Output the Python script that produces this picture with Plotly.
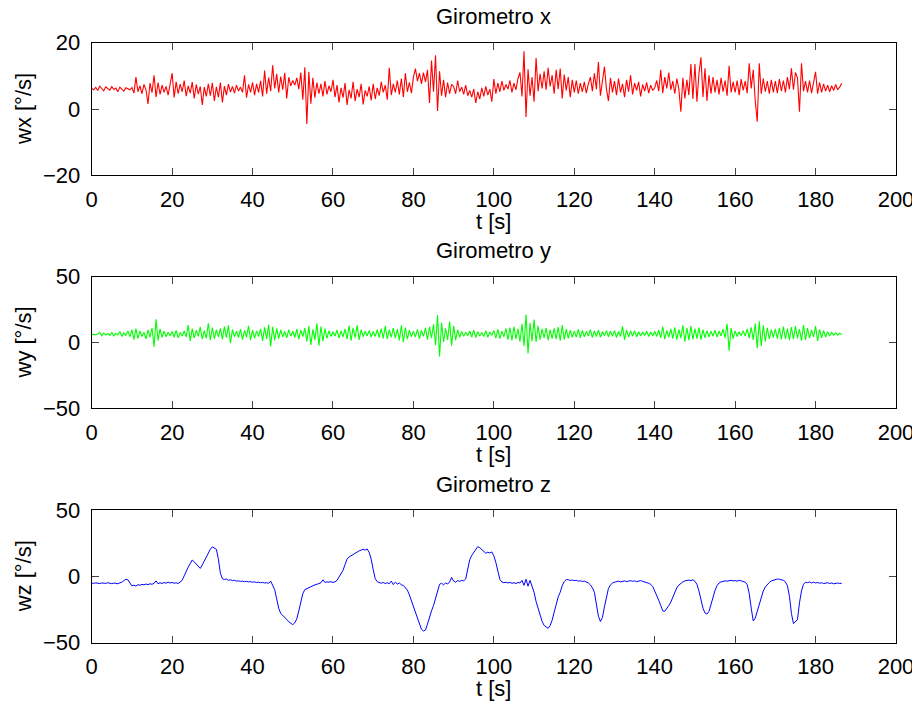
import plotly.graph_objects as go

dt = 0.5

wx = [
    6.2, 5.8, 6.5, 5.6, 6.9, 6.0, 5.5, 6.7, 6.1, 5.7, 6.8, 5.9, 6.3, 5.2, 6.6, 6.0, 5.4, 6.4, 6.2, 5.8,
    6.5, 4.8, 9.6, 5.2, 7.0, 4.6, 7.4, 5.8, 1.5, 7.8, 4.9, 10.2, 3.6, 8.0, 4.4, 7.2, 5.0, 6.8, 4.2, 7.6,
    10.8, 3.5, 8.2, 4.6, 7.5, 5.2, 8.6, 3.9, 7.0, 4.8, 8.1, 3.2, 7.4, 4.5, 6.8, 1.2, 6.6, 3.8, 7.6, 4.0,
    7.9, 2.4, 6.7, 3.6, 8.0, 2.0, 6.9, 4.2, 7.5, 5.1, 6.8, 4.8, 7.2, 5.4, 6.6, 5.0, 10.2, 3.4, 7.4, 5.0,
    8.0, 4.2, 7.6, 5.0, 8.5, 3.8, 11.6, 4.6, 9.5, 5.4, 13.2, 6.2, 10.6, 5.0, 9.8, 5.8, 10.9, 3.2, 9.6, 7.0,
    8.6, 7.2, 9.4, 6.0, 11.0, 2.8, 12.6, -4.5, 11.2, 1.6, 9.4, 3.4, 8.0, 4.6, 7.6, 3.8, 8.4, 4.4, 7.0, 5.2,
    8.8, 3.6, 7.2, 2.0, 6.4, 3.4, 7.8, 1.2, 5.8, 3.2, 8.2, 2.4, 6.0, 3.6, 7.6, 1.4, 5.6, 3.8, 6.8, 2.6,
    7.6, 3.0, 6.4, 4.0, 8.2, 5.0, 7.2, 2.8, 12.4, 4.2, 7.6, 5.0, 8.6, 4.4, 9.2, 3.6, 10.8, 5.2, 8.0, 4.8,
    9.6, 12.2, 8.4, 10.8, 7.6, 11.0, 8.2, 11.8, 1.8, 14.6, 5.2, 16.2, -0.6, 11.4, 4.0, 8.8, 3.6, 8.0, 4.6, 7.4,
    6.8, 4.6, 8.6, 5.2, 6.6, 4.4, 7.2, 4.0, 5.6, 3.6, 6.0, 1.8, 5.2, 3.0, 6.4, 3.8, 6.8, 4.2, 6.0, 2.2,
    9.0, 4.6, 7.8, 5.2, 8.4, 5.6, 7.4, 6.0, 8.6, 5.0, 7.8, 5.8, 9.2, 11.0, 3.8, 17.4, -2.4, 12.0, 4.0, 9.6,
    2.2, 15.4, 5.4, 10.6, 6.2, 11.4, 5.8, 12.4, 6.8, 10.2, 4.6, 11.8, 6.0, 12.2, 3.2, 10.4, 5.6, 9.6, 3.6, 8.8,
    5.0, 8.6, 4.6, 7.8, 5.2, 8.2, 4.8, 7.6, 9.6, 5.4, 10.8, 6.0, 14.2, 4.0, 9.0, 12.8, 6.0, 2.4, 9.4, 5.0,
    8.4, 4.2, 9.2, 5.0, 7.6, 3.6, 8.8, 5.2, 10.2, 4.4, 7.8, 5.6, 8.2, 3.8, 7.4, 5.4, 8.0, 4.8, 7.2, 5.6,
    6.4, 8.6, 5.4, 11.8, 4.8, 9.6, 6.2, 11.0, 5.8, 8.4, 4.6, 9.2, 6.0, -0.8, 9.4, 3.2, 8.8, 4.2, 13.6, 3.0,
    13.6, 2.2, 10.8, 15.6, 3.6, 12.3, 2.4, 10.2, 4.6, 9.6, 5.0, 8.8, 4.4, 9.4, 5.2, 8.6, 4.0, 13.0, 5.0, 8.2,
    5.0, 8.6, 4.2, 9.0, 5.6, 8.4, 4.8, 13.8, 6.2, 11.8, 2.4, -3.8, 13.8, 4.6, 9.2, 5.2, 8.4, 4.6, 8.8, 5.0,
    8.4, 4.8, 9.0, 5.4, 8.6, 5.0, 9.6, 6.0, 12.3, 5.8, 11.0, 9.4, -0.8, 13.8, 5.4, 8.4, 5.0, 8.6, 4.8, 7.8,
    11.2, 4.6, 8.0, 5.0, 7.6, 5.4, 7.2, 5.2, 7.0, 5.6, 7.4, 5.8, 6.6, 7.8,
]

wy = [
    6.0, 6.2, 5.8, 6.4, 7.8, 5.2, 7.2, 5.6, 6.8, 5.4, 7.6, 5.0, 7.0, 5.8, 8.4, 4.6, 7.4, 5.2, 8.8, 4.4,
    9.8, 2.2, 10.6, 3.0, 8.8, 4.6, 7.6, 2.8, 9.6, 4.0, 11.2, -3.2, 17.6, 1.6, 10.4, 3.8, 8.6, 4.4, 7.8, 5.2,
    8.4, 4.0, 9.2, 3.6, 7.6, 5.0, 8.8, 4.2, 13.2, 1.2, 10.6, 3.4, 9.4, 4.6, 11.8, 2.6, 9.0, 3.2, 14.6, 1.8,
    11.4, 3.0, 9.6, 4.2, 10.8, 2.4, 12.0, 3.6, 13.0, -0.6, 9.8, 4.4, 8.6, 3.8, 10.2, 2.2, 9.2, 4.0, 12.6, 1.8,
    9.4, 3.4, 8.8, 4.6, 10.4, 1.2, 11.6, 2.8, 13.6, -3.0, 12.0, 1.6, 10.8, 3.0, 9.6, 4.2, 8.4, 3.6, 9.8, 4.8,
    8.6, 3.8, 10.2, 2.6, 9.4, 4.4, 11.0, 0.8, 12.4, -1.8, 10.0, 2.0, 14.6, -2.4, 12.2, 1.0, 10.6, 3.2, 9.0, 4.6,
    8.2, 4.8, 9.6, 3.4, 8.8, 4.2, 10.4, 2.6, 12.8, 1.4, 11.2, 3.6, 13.0, 2.0, 9.8, 4.4, 8.6, 5.0, 9.2, 4.2,
    8.4, 4.6, 9.8, 3.8, 10.6, 3.2, 12.4, 2.8, 9.6, 4.0, 11.0, 3.4, 10.2, 1.6, 13.0, 0.2, 11.4, 2.6, 9.4, 4.4,
    8.6, 4.2, 10.0, 3.0, 9.2, 4.6, 11.2, 2.2, 12.0, 3.4, 13.8, -2.0, 20.8, -10.6, 15.0, 0.4, 10.8, 2.0, 16.0, -2.4,
    12.6, 1.8, 9.6, 4.0, 8.4, 4.8, 7.8, 5.2, 8.8, 4.2, 9.4, 3.8, 8.2, 5.0, 7.6, 4.6, 9.0, 4.0, 8.0, 5.4,
    9.2, 3.4, 10.0, 3.0, 8.6, 4.4, 10.8, 2.2, 11.4, 1.6, 12.0, 2.8, 10.4, 0.6, 14.2, -2.6, 21.2, -8.4, 14.8, 1.0,
    17.4, 0.4, 12.6, 2.2, 10.4, 3.6, 11.2, 1.8, 9.6, 3.0, 10.8, 2.6, 11.8, 1.4, 13.0, 2.4, 10.2, 3.2, 9.4, 4.0,
    8.6, 4.2, 10.0, 3.6, 9.2, 4.4, 8.4, 5.0, 9.8, 3.8, 8.8, 4.6, 9.4, 4.0, 8.2, 5.2, 9.0, 4.4, 8.6, 4.8,
    9.2, 3.8, 8.4, 4.6, 12.2, 2.0, 9.6, 4.2, 8.8, 4.8, 9.0, 4.4, 8.2, 5.0, 7.8, 5.4, 8.6, 4.6, 8.0, 5.0,
    8.4, 4.6, 9.4, 3.6, 12.0, 2.6, 9.2, 4.0, 10.4, 3.0, 11.6, 2.2, 10.0, 3.4, 13.0, 0.6, 11.2, 1.8, 12.4, 2.4,
    10.6, 3.0, 11.4, 2.2, 9.8, 3.6, 9.0, 4.4, 8.6, 4.8, 9.4, 4.2, 8.8, 5.0, 10.2, 3.6, 14.2, -6.2, 11.0, 3.0,
    8.8, 4.6, 8.2, 5.2, 9.0, 4.8, 10.4, 3.4, 11.6, 2.0, 14.4, -4.4, 16.2, -2.6, 13.0, 0.8, 11.2, 2.6, 9.8, 3.8,
    10.4, 3.0, 11.0, 2.4, 12.0, 2.8, 10.6, 1.8, 11.8, 2.6, 12.4, 3.2, 10.2, 1.4, 13.2, 2.0, 11.0, 3.4, 9.6, 4.2,
    12.4, 1.2, 10.0, 3.6, 9.0, 4.2, 8.2, 5.0, 7.8, 5.4, 7.4, 5.6, 7.0, 6.0,
]

wz = [
    -5.0, -5.3, -4.9, -5.2, -5.4, -5.0, -5.1, -5.3, -4.8, -5.2, -5.5, -5.0, -5.2, -5.6, -4.9, -4.4, -3.2, -2.2, -2.6, -4.6,
    -7.2, -6.6, -7.4, -6.2, -6.8, -6.0, -6.4, -5.8, -6.2, -5.6, -6.0, -5.2, -3.4, -5.6, -4.8, -5.4, -4.6, -5.2, -4.4, -5.0,
    -4.6, -5.2, -4.8, -5.4, -4.4, -3.0, 0.4, 4.2, 7.0, 9.6, 12.4, 10.8, 9.0, 7.2, 6.0, 8.6, 11.8, 15.0, 18.2, 20.4,
    22.2, 21.6, 20.4, 13.0, 2.4, -1.8, -2.4, -2.0, -3.0, -2.6, -3.2, -3.0, -3.6, -3.4, -3.8, -3.6, -4.0, -3.8, -4.2, -4.0,
    -4.4, -4.2, -4.6, -4.4, -4.8, -4.6, -5.0, -4.8, -5.2, -3.6, -6.8, -10.0, -17.0, -24.0, -28.0, -29.4, -30.6, -32.4, -34.2, -35.6,
    -36.4, -35.0, -32.0, -26.0, -19.0, -13.0, -10.0, -9.2, -8.6, -7.8, -7.2, -6.4, -6.0, -5.4, -4.8, -2.6, -4.6, -4.2, -4.4, -4.0,
    -4.6, -4.2, -3.0, -0.5, 2.0, 4.6, 9.0, 13.0, 14.6, 15.6, 16.2, 17.4, 18.4, 19.2, 19.8, 20.4, 19.8, 20.6, 18.0, 13.0,
    5.0, -1.8, -4.0, -4.8, -5.2, -4.6, -5.4, -4.8, -5.6, -3.6, -6.2, -4.4, -5.8, -5.0, -6.4, -6.8, -8.6, -10.4, -14.0, -18.6,
    -23.0, -26.0, -31.0, -36.0, -40.0, -41.2, -40.4, -36.0, -30.0, -26.0, -22.0, -16.0, -11.0, -6.0, -5.2, -6.4, -5.0, -5.8, -4.2, -0.8,
    -3.6, -4.4, -3.2, -3.8, -3.0, -3.4, -2.0, 5.0, 12.6, 15.8, 18.0, 20.6, 22.4, 21.6, 20.2, 18.6, 17.4, 18.2, 17.6, 18.4,
    15.4, 10.4, 3.0, -2.4, -4.2, -4.8, -4.4, -5.0, -4.6, -5.2, -4.8, -5.4, -4.6, -5.0, -3.0, -6.8, -2.2, -7.4, -3.0, -8.0,
    -12.0, -19.0, -24.0, -28.0, -34.0, -37.0, -38.4, -39.2, -37.0, -33.0, -27.0, -21.0, -15.5, -12.0, -7.0, -4.0, -2.4, -2.6, -3.0, -2.8,
    -3.2, -3.0, -3.6, -3.4, -3.8, -3.6, -4.2, -5.0, -6.4, -8.6, -12.0, -20.0, -30.0, -34.0, -31.0, -23.0, -15.0, -9.0, -6.4, -5.0,
    -4.4, -4.0, -3.6, -4.2, -3.8, -3.4, -4.0, -3.6, -3.2, -3.8, -3.4, -4.0, -3.6, -3.2, -3.8, -4.2, -4.6, -5.2, -6.0, -7.6,
    -11.0, -14.0, -18.0, -22.0, -26.0, -26.4, -24.6, -22.0, -19.4, -15.6, -11.8, -8.6, -6.6, -5.0, -4.2, -3.4, -3.0, -2.8, -3.2, -2.6,
    -3.8, -6.0, -11.0, -18.0, -24.0, -27.6, -28.4, -26.4, -21.0, -15.0, -10.6, -7.0, -5.0, -4.2, -3.8, -3.4, -3.6, -3.2, -3.0, -3.4,
    -3.2, -3.6, -3.0, -3.4, -3.8, -4.4, -6.2, -13.0, -24.0, -33.6, -31.4, -26.0, -20.0, -15.0, -11.0, -8.0, -6.0, -4.6, -3.4, -2.8,
    -2.4, -2.0, -2.2, -2.6, -3.0, -4.2, -7.0, -15.0, -28.0, -35.6, -34.0, -32.6, -20.0, -11.0, -6.0, -4.4, -4.8, -4.2, -5.0, -4.4,
    -5.0, -4.6, -5.2, -4.8, -5.4, -5.0, -4.8, -5.4, -5.0, -5.6, -5.2, -5.0, -5.4, -5.2,
]

t = [i * dt for i in range(len(wx))]

series = [wx, wy, wz]
titles = ["Girometro x", "Girometro y", "Girometro z"]
ylabels = ["wx [°/s]", "wy [°/s]", "wz [°/s]"]
yranges = [[-20, 20], [-50, 50], [-50, 50]]
yticks = [[-20, 0, 20], [-50, 0, 50], [-50, 0, 50]]
xticks = list(range(0, 201, 20))
xlabel = "t [s]"
colors = ["#FF0000", "#00FF00", "#0000FF"]
widths = [1.1, 1.1, 1.0]

# the page body adds an 8 px margin, so the figure is drawn 8 px in from the window corner
OFF = 8
W, H = 920 - OFF, 708 - OFF
X0, X1 = 91.7 - OFF, 896.0 - OFF
BOXES = [(42.7 - OFF, 175.3 - OFF), (276.7 - OFF, 408.3 - OFF), (510.0 - OFF, 642.7 - OFF)]
YLAB_X = 23 - OFF
FONT = "Liberation Sans, Arial, Helvetica, sans-serif"
FS = 22

def py(p):
    return 1 - p / H

fig = go.Figure()
annotations = []
layout = dict(
    width=W, height=H,
    margin=dict(l=0, r=0, t=0, b=0, autoexpand=False),
    paper_bgcolor="white", plot_bgcolor="white",
    showlegend=False,
    font=dict(family=FONT, size=FS, color="black"),
)

for i in range(3):
    n = "" if i == 0 else str(i + 1)
    top, bot = BOXES[i]
    fig.add_trace(go.Scatter(
        x=t, y=series[i], mode="lines",
        line=dict(color=colors[i], width=widths[i]),
        xaxis="x" + n, yaxis="y" + n, hoverinfo="skip",
    ))
    layout["xaxis" + n] = dict(
        domain=[X0 / W, X1 / W], anchor="y" + n, range=[0, 200],
        tickmode="array", tickvals=xticks, ticks="inside", ticklen=7,
        tickcolor="#444444", tickwidth=1, showline=True, linecolor="black",
        linewidth=1, mirror="ticks", showgrid=False, zeroline=False,
        tickfont=dict(family=FONT, size=FS, color="black"),
        ticklabelstandoff=4, automargin=False,
    )
    layout["yaxis" + n] = dict(
        domain=[py(bot), py(top)], anchor="x" + n, range=yranges[i],
        tickmode="array", tickvals=yticks[i], ticks="inside", ticklen=7,
        tickcolor="#444444", tickwidth=1, showline=True, linecolor="black",
        linewidth=1, mirror="ticks", showgrid=False, zeroline=False,
        tickfont=dict(family=FONT, size=FS, color="black"),
        ticklabelstandoff=6, automargin=False,
    )
    xc = (X0 + X1) / 2 / W
    annotations.append(dict(text=titles[i], x=xc, y=py(top - 26), xref="paper", yref="paper",
                            xanchor="center", yanchor="middle", showarrow=False,
                            font=dict(family=FONT, size=FS, color="black")))
    annotations.append(dict(text=xlabel, x=xc, y=py(bot + 46), xref="paper", yref="paper",
                            xanchor="center", yanchor="middle", showarrow=False,
                            font=dict(family=FONT, size=FS, color="black")))
    annotations.append(dict(text=ylabels[i], x=YLAB_X / W, y=py((top + bot) / 2), xref="paper", yref="paper",
                            xanchor="center", yanchor="middle", showarrow=False, textangle=-90,
                            font=dict(family=FONT, size=FS, color="black")))

layout["annotations"] = annotations
fig.update_layout(**layout)
fig.write_html("out.html")
